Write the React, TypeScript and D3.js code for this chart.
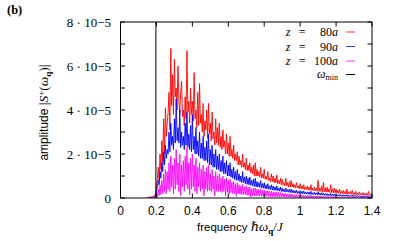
import React from "react";
import * as d3 from "d3";

// spectra sampled from f = 0.15 in steps of 0.005 (amplitudes in units of 1e-5)
const freqStart = 0.15;
const freqStep = 0.005;

const ampZ80 = [
  0.03, 0.03, 0.04, 0.04, 0.05, 0.05, 0.06, 0.08, 0.12, 0.2,
  0.5, 0.9, 1.4, 0.8, 2.0, 1.3, 2.6, 1.6, 3.6, 2.0,
  4.1, 2.8, 3.4, 3.9, 4.8, 3.1, 6.8, 4.2, 5.6, 3.8,
  6.3, 4.6, 5.0, 4.0, 6.0, 4.4, 3.9, 4.8, 5.3, 3.7,
  4.0, 3.3, 4.6, 3.6, 6.7, 3.9, 4.4, 3.4, 5.0, 3.8,
  4.4, 3.5, 5.7, 3.6, 4.0, 3.2, 4.8, 3.3, 5.2, 3.4,
  3.8, 3.0, 4.3, 2.8, 3.5, 3.1, 4.0, 2.7, 4.3, 2.9,
  3.4, 2.6, 3.9, 2.7, 3.0, 2.4, 3.6, 2.5, 3.2, 2.4,
  3.4, 2.3, 2.8, 2.2, 3.1, 2.3, 2.6, 2.0, 2.9, 2.0,
  2.5, 1.9, 2.8, 1.9, 2.2, 1.8, 2.4, 1.7, 2.0, 1.7,
  2.1, 1.5, 1.9, 1.5, 1.7, 1.4, 2.0, 1.4, 1.6, 1.3,
  1.8, 1.25, 1.5, 1.25, 1.6, 1.15, 1.4, 1.1, 1.5, 1.0,
  1.6, 1.0, 1.3, 1.0, 1.2, 0.95, 1.4, 0.9, 1.1, 0.9,
  1.3, 0.85, 1.0, 0.85, 1.2, 0.8, 0.9, 0.75, 1.1, 0.75,
  1.0, 0.7, 0.9, 0.7, 1.05, 0.65, 0.8, 0.65, 0.9, 0.6,
  0.85, 0.6, 0.7, 0.55, 0.9, 0.55, 0.7, 0.5, 0.75, 0.5,
  0.8, 0.5, 0.65, 0.48, 0.6, 0.45, 0.7, 0.45, 0.55, 0.42,
  0.65, 0.42, 0.55, 0.4, 0.6, 0.38, 0.5, 0.38, 0.55, 0.36,
  0.5, 0.35, 0.6, 0.34, 0.45, 0.33, 0.5, 0.32, 0.45, 0.31,
  0.8, 0.3, 0.45, 0.3, 0.55, 0.28, 0.7, 0.28, 0.45, 0.27,
  0.5, 0.26, 0.4, 0.25, 0.6, 0.25, 0.4, 0.24, 0.45, 0.23,
  0.4, 0.22, 0.35, 0.22, 0.4, 0.2, 0.3, 0.2, 0.35, 0.19,
  0.3, 0.18, 0.4, 0.18, 0.28, 0.17, 0.3, 0.17, 0.35, 0.16,
  0.25, 0.15, 0.3, 0.15, 0.22, 0.14, 0.28, 0.14, 0.2, 0.13,
  0.25, 0.13, 0.2, 0.12, 0.22, 0.12, 0.3, 0.12, 0.18, 0.11,
  0.12,
];

const ampZ90 = [
  0.01, 0.01, 0.01, 0.02, 0.02, 0.02, 0.03, 0.04, 0.06, 0.1,
  0.3, 0.5, 0.8, 0.6, 1.2, 0.9, 1.6, 1.2, 2.1, 1.5,
  2.4, 1.8, 2.2, 2.0, 3.0, 2.1, 3.4, 2.4, 2.8, 2.2,
  3.6, 2.5, 4.5, 2.6, 3.2, 2.5, 4.0, 2.3, 3.0, 2.4,
  2.8, 2.2, 3.4, 2.4, 3.9, 2.3, 2.9, 2.2, 3.3, 2.1,
  3.8, 2.2, 2.8, 2.0, 3.2, 2.0, 2.6, 1.9, 3.0, 1.8,
  2.5, 1.8, 2.8, 1.7, 2.3, 1.7, 2.6, 1.6, 2.9, 1.5,
  2.2, 1.5, 2.4, 1.4, 2.0, 1.4, 2.2, 1.3, 1.9, 1.3,
  2.0, 1.2, 1.7, 1.2, 1.9, 1.1, 1.6, 1.1, 1.7, 1.0,
  1.5, 1.0, 1.6, 0.95, 1.3, 0.9, 1.4, 0.85, 1.2, 0.8,
  1.3, 0.8, 1.1, 0.75, 1.0, 0.7, 1.2, 0.7, 0.95, 0.65,
  1.0, 0.62, 0.9, 0.6, 0.95, 0.58, 0.8, 0.55, 0.85, 0.52,
  0.9, 0.5, 0.75, 0.5, 0.7, 0.48, 0.8, 0.46, 0.65, 0.44,
  0.7, 0.42, 0.6, 0.41, 0.65, 0.4, 0.55, 0.38, 0.6, 0.36,
  0.55, 0.35, 0.5, 0.34, 0.55, 0.33, 0.45, 0.31, 0.5, 0.3,
  0.45, 0.29, 0.4, 0.28, 0.45, 0.27, 0.38, 0.26, 0.4, 0.25,
  0.4, 0.24, 0.35, 0.23, 0.33, 0.22, 0.36, 0.21, 0.3, 0.2,
  0.33, 0.2, 0.3, 0.19, 0.32, 0.18, 0.27, 0.18, 0.28, 0.17,
  0.27, 0.16, 0.3, 0.16, 0.24, 0.15, 0.26, 0.15, 0.23, 0.14,
  0.28, 0.14, 0.22, 0.13, 0.25, 0.13, 0.22, 0.12, 0.2, 0.12,
  0.2, 0.11, 0.18, 0.11, 0.22, 0.1, 0.17, 0.1, 0.18, 0.1,
  0.16, 0.09, 0.15, 0.09, 0.17, 0.09, 0.14, 0.08, 0.15, 0.08,
  0.14, 0.08, 0.15, 0.07, 0.13, 0.07, 0.12, 0.07, 0.13, 0.06,
  0.12, 0.06, 0.11, 0.06, 0.12, 0.06, 0.1, 0.05, 0.1, 0.05,
  0.1, 0.05, 0.09, 0.05, 0.1, 0.05, 0.09, 0.04, 0.08, 0.04,
  0.05,
];

const ampZ100 = [
  0.005, 0.005, 0.01, 0.01, 0.01, 0.01, 0.02, 0.02, 0.03, 0.05,
  0.15, 0.05, 0.4, 0.1, 0.6, 0.15, 0.8, 0.2, 1.1, 0.3,
  1.3, 0.2, 1.2, 0.4, 1.6, 0.3, 1.9, 0.5, 1.5, 0.2,
  1.8, 0.4, 2.2, 0.6, 1.6, 0.3, 2.0, 0.1, 1.5, 0.5,
  1.7, 0.3, 1.9, 0.6, 2.3, 0.4, 1.6, 0.15, 1.8, 0.4,
  2.0, 0.5, 1.5, 0.3, 1.8, 0.2, 1.4, 0.5, 1.6, 0.3,
  1.3, 0.4, 1.5, 0.1, 1.2, 0.4, 1.4, 0.3, 1.5, 0.35,
  1.1, 0.3, 1.3, 0.4, 1.0, 0.1, 1.2, 0.3, 1.0, 0.3,
  1.1, 0.3, 0.9, 0.25, 1.0, 0.3, 0.85, 0.1, 0.9, 0.25,
  0.8, 0.2, 0.85, 0.25, 0.7, 0.2, 0.75, 0.2, 0.65, 0.08,
  0.7, 0.2, 0.6, 0.18, 0.55, 0.15, 0.62, 0.15, 0.5, 0.15,
  0.55, 0.12, 0.48, 0.12, 0.5, 0.05, 0.42, 0.1, 0.45, 0.1,
  0.45, 0.1, 0.4, 0.1, 0.38, 0.08, 0.42, 0.08, 0.35, 0.08,
  0.36, 0.08, 0.32, 0.07, 0.34, 0.07, 0.3, 0.06, 0.3, 0.06,
  0.28, 0.06, 0.26, 0.05, 0.28, 0.05, 0.24, 0.05, 0.25, 0.05,
  0.22, 0.05, 0.2, 0.04, 0.22, 0.04, 0.18, 0.04, 0.2, 0.04,
  0.18, 0.04, 0.16, 0.03, 0.15, 0.03, 0.16, 0.03, 0.14, 0.03,
  0.14, 0.03, 0.12, 0.03, 0.13, 0.03, 0.11, 0.02, 0.12, 0.02,
  0.11, 0.02, 0.12, 0.02, 0.1, 0.02, 0.1, 0.02, 0.09, 0.02,
  0.1, 0.02, 0.09, 0.02, 0.09, 0.02, 0.08, 0.02, 0.08, 0.02,
  0.08, 0.02, 0.07, 0.02, 0.08, 0.02, 0.07, 0.01, 0.07, 0.01,
  0.06, 0.01, 0.06, 0.01, 0.06, 0.01, 0.05, 0.01, 0.05, 0.01,
  0.05, 0.01, 0.05, 0.01, 0.05, 0.01, 0.04, 0.01, 0.04, 0.01,
  0.04, 0.01, 0.04, 0.01, 0.04, 0.01, 0.04, 0.01, 0.03, 0.01,
  0.03, 0.01, 0.03, 0.01, 0.03, 0.01, 0.03, 0.01, 0.03, 0.01,
  0.02,
];

const omegaMin = 0.197;

const xTicks = [0, 0.2, 0.4, 0.6, 0.8, 1, 1.2, 1.4];
const xTickLabels = ["0", "0.2", "0.4", "0.6", "0.8", "1", "1.2", "1.4"];
const yTicks = [0, 2, 4, 6, 8];
const yTickLabels = ["0", "2 · 10−5", "4 · 10−5", "6 · 10−5", "8 · 10−5"];
const yMinorTicks = [1, 3, 5, 7];

const seriesNames = ["80", "90", "100"];
const seriesColors = ["#ff0000", "#0000ff", "#ff00ff"];

const SERIF = "'Liberation Serif', 'DejaVu Serif', serif";
const SANS = "'Liberation Sans', 'DejaVu Sans', sans-serif";

export default function App() {
  const W = 399;
  const H = 241;
  const x = d3.scaleLinear().domain([0, 1.4]).range([120.5, 372]);
  const y = d3.scaleLinear().domain([0, 8]).range([198, 22]);

  const line = d3
    .line<number>()
    .x((_, i) => x(freqStart + i * freqStep))
    .y((d) => y(d));

  const all = [ampZ80, ampZ90, ampZ100];
  const tickLen = 4.5;
  const legendX = 338;
  const legendRows = [32, 46.5, 61, 74.5];
  const eqSpace = "\u2002\u2009";

  return (
    <svg
      width={W}
      height={H}
      style={{ position: "absolute", left: 0, top: 0, background: "#fff" }}
    >
      <text x={7} y={14} fontFamily={SERIF} fontWeight="bold" fontSize={12.5}>
        (b)
      </text>

      <defs>
        <clipPath id="plotclip">
          <rect x={x(0)} y={y(8)} width={x(1.4) - x(0)} height={y(0) - y(8)} />
        </clipPath>
      </defs>

      {/* spectra */}
      <g clipPath="url(#plotclip)">
        {all.map((arr, k) => (
          <path
            key={k}
            d={line(arr) || ""}
            fill="none"
            stroke={seriesColors[k]}
            strokeWidth={0.9}
          />
        ))}
        <line
          x1={x(omegaMin)}
          x2={x(omegaMin)}
          y1={y(0)}
          y2={y(8)}
          stroke="#000"
          strokeWidth={1}
        />
      </g>

      {/* frame */}
      <rect
        x={x(0)}
        y={y(8)}
        width={x(1.4) - x(0)}
        height={y(0) - y(8)}
        fill="none"
        stroke="#000"
        strokeWidth={1}
      />

      {/* x ticks */}
      {xTicks.map((t, i) => (
        <g key={"xt" + i}>
          <line x1={x(t)} x2={x(t)} y1={y(0)} y2={y(0) - tickLen} stroke="#000" />
          <line x1={x(t)} x2={x(t)} y1={y(8)} y2={y(8) + tickLen} stroke="#000" />
          <text
            x={x(t)}
            y={215}
            textAnchor="middle"
            fontFamily={SANS}
            fontSize={12}
          >
            {xTickLabels[i]}
          </text>
        </g>
      ))}

      {/* y ticks */}
      {[...yTicks, ...yMinorTicks].map((t, i) => (
        <g key={"yt" + i}>
          <line x1={x(0)} x2={x(0) + tickLen} y1={y(t)} y2={y(t)} stroke="#000" />
          <line x1={x(1.4)} x2={x(1.4) - tickLen} y1={y(t)} y2={y(t)} stroke="#000" />
        </g>
      ))}
      {yTicks.map((t, i) => (
        <text
          key={"yl" + i}
          x={111}
          y={y(t) + 4.5}
          textAnchor="end"
          fontFamily={SERIF}
          fontSize={13}
        >
          {yTickLabels[i]}
        </text>
      ))}

      {/* axis labels */}
      <text x={197} y={231} fontFamily={SANS} fontSize={11.5}>
        frequency{" "}
        <tspan fontFamily={SERIF} fontStyle="italic" fontSize={13}>
          ℏω
        </tspan>
        <tspan dy={2.5} fontFamily={SERIF} fontWeight="bold" fontSize={9}>
          q
        </tspan>
        <tspan dy={-2.5} fontFamily={SERIF} fontSize={13}>
          /
        </tspan>
        <tspan fontFamily={SERIF} fontStyle="italic" fontSize={13}>
          J
        </tspan>
      </text>

      <text
        transform="translate(48,112.5) rotate(-90)"
        textAnchor="middle"
        fontFamily={SANS}
        fontSize={12}
      >
        amplitude{" "}
        <tspan fontFamily={SERIF} fontSize={13.5}>
          |
        </tspan>
        <tspan fontFamily={SERIF} fontStyle="italic" fontSize={13.5}>
          S
        </tspan>
        <tspan dy={-4.5} fontFamily={SERIF} fontSize={9}>
          +
        </tspan>
        <tspan dy={4.5} fontFamily={SERIF} fontSize={13.5}>
          (
        </tspan>
        <tspan fontFamily={SERIF} fontStyle="italic" fontSize={13.5}>
          ω
        </tspan>
        <tspan dy={2.5} fontFamily={SERIF} fontWeight="bold" fontSize={9}>
          q
        </tspan>
        <tspan dy={-2.5} fontFamily={SERIF} fontSize={13.5}>
          )|
        </tspan>
      </text>

      {/* legend */}
      {seriesNames.map((n, k) => (
        <g key={"lg" + k}>
          <text
            x={legendX}
            y={legendRows[k] + 4}
            textAnchor="end"
            fontFamily={SERIF}
            fontSize={12}
          >
            <tspan fontStyle="italic">z</tspan>
            {eqSpace + "=" + eqSpace}
            {n.length < 3 ? "\u2007" + n : n}
            <tspan fontStyle="italic">a</tspan>
          </text>
          <line
            x1={346}
            x2={355}
            y1={legendRows[k]}
            y2={legendRows[k]}
            stroke={seriesColors[k]}
            strokeWidth={0.8}
          />
        </g>
      ))}
      <text
        x={legendX}
        y={legendRows[3] + 3}
        textAnchor="end"
        fontFamily={SERIF}
        fontSize={12}
      >
        <tspan fontStyle="italic">ω</tspan>
        <tspan dy={2} fontSize={8}>
          min
        </tspan>
      </text>
      <line
        x1={346}
        x2={355}
        y1={legendRows[3]}
        y2={legendRows[3]}
        stroke="#000"
        strokeWidth={1}
      />
    </svg>
  );
}
